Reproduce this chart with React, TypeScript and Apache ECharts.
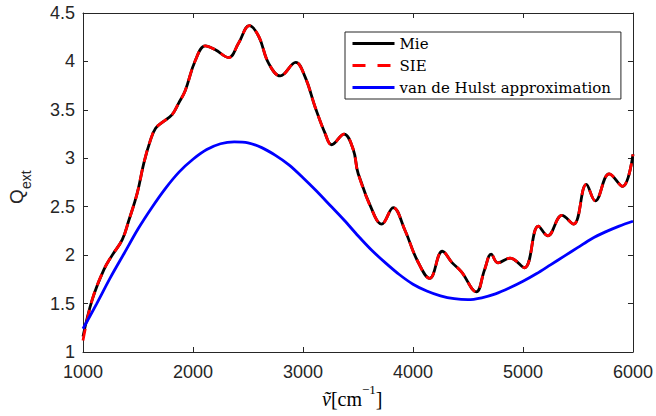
import React, { useEffect, useRef } from "react";
import * as echarts from "echarts";

// Wavenumber (cm^-1) sample positions
const mieNu = [1000, 1084, 1190, 1266, 1357, 1417, 1493, 1553, 1614, 1660, 1720, 1810, 1870, 1930, 2021, 2112, 2203, 2324, 2415, 2512, 2597, 2688, 2794, 2934, 3019, 3110, 3200, 3260, 3373, 3457, 3502, 3653, 3714, 3820, 3926, 4037, 4152, 4267, 4357, 4439, 4575, 4651, 4711, 4772, 4883, 5013, 5140, 5225, 5354, 5460, 5576, 5657, 5784, 5905, 6000];
const mieQ = [1.16, 1.54, 1.85, 2.0, 2.16, 2.36, 2.64, 2.95, 3.19, 3.31, 3.37, 3.45, 3.57, 3.7, 4.01, 4.16, 4.12, 4.04, 4.19, 4.37, 4.26, 3.98, 3.85, 3.99, 3.84, 3.53, 3.26, 3.14, 3.25, 3.09, 2.84, 2.4, 2.32, 2.49, 2.26, 1.95, 1.76, 2.04, 1.92, 1.83, 1.62, 1.85, 2.01, 1.92, 1.97, 1.87, 2.3, 2.2, 2.41, 2.32, 2.73, 2.56, 2.84, 2.71, 3.04];
const sieQ = [1.12, 1.54, 1.85, 2.0, 2.16, 2.36, 2.64, 2.95, 3.19, 3.31, 3.37, 3.45, 3.57, 3.7, 4.01, 4.16, 4.12, 4.04, 4.19, 4.37, 4.26, 3.98, 3.85, 3.99, 3.84, 3.53, 3.26, 3.14, 3.25, 3.09, 2.84, 2.4, 2.32, 2.49, 2.26, 1.95, 1.76, 2.04, 1.92, 1.83, 1.62, 1.85, 2.01, 1.92, 1.97, 1.87, 2.3, 2.2, 2.41, 2.32, 2.73, 2.56, 2.84, 2.71, 3.04];

const hulstNu = [1000, 1125, 1250, 1375, 1500, 1625, 1750, 1875, 2000, 2125, 2250, 2375, 2500, 2625, 2750, 2875, 3000, 3125, 3250, 3375, 3500, 3625, 3750, 3875, 4000, 4125, 4250, 4375, 4500, 4625, 4750, 4875, 5000, 5125, 5250, 5375, 5500, 5625, 5750, 5875, 6000];
const hulstQ = [1.24, 1.5, 1.77, 2.02, 2.27, 2.49, 2.69, 2.86, 2.99, 3.09, 3.15, 3.17, 3.16, 3.11, 3.03, 2.93, 2.8, 2.66, 2.51, 2.36, 2.2, 2.05, 1.92, 1.8, 1.7, 1.63, 1.58, 1.55, 1.54, 1.56, 1.6, 1.66, 1.73, 1.81, 1.9, 1.99, 2.08, 2.17, 2.24, 2.3, 2.35];

const seriesNames = ["Mie", "SIE", "van de Hulst approximation"];

const X_MIN = 1000, X_MAX = 6000, X_STEP = 1000;
const Y_MIN = 1, Y_MAX = 4.5, Y_STEP = 0.5;

const AXIS_COLOR = "#262626";

export default function App() {
  const ref = useRef<HTMLDivElement>(null);
  useEffect(() => {
    if (!ref.current) return;
    const chart = echarts.init(ref.current, undefined, { renderer: "svg" });
    const pair = (xs: number[], ys: number[]) => xs.map((x, i) => [x, ys[i]]);
    const baseAxis = {
      type: "value" as const,
      axisLine: { show: true, onZero: false, lineStyle: { color: AXIS_COLOR, width: 1 } },
      axisTick: { show: true, inside: true, length: 5, lineStyle: { color: AXIS_COLOR, width: 1 } },
      splitLine: { show: false },
    };
    chart.setOption({
      animation: false,
      backgroundColor: "#ffffff",
      grid: { left: 83, right: 20, top: 13, bottom: 64 },
      xAxis: [
        {
          ...baseAxis,
          position: "bottom",
          min: X_MIN, max: X_MAX, interval: X_STEP,
          axisLabel: { margin: 11, fontSize: 18, fontFamily: "Liberation Sans", color: AXIS_COLOR, formatter: (v: number) => String(v) },
        },
        {
          ...baseAxis,
          position: "top",
          min: X_MIN, max: X_MAX, interval: X_STEP,
          axisLabel: { show: false },
        },
      ],
      yAxis: [
        {
          ...baseAxis,
          position: "left",
          min: Y_MIN, max: Y_MAX, interval: Y_STEP,
          axisLabel: { margin: 8, fontSize: 18, fontFamily: "Liberation Sans", color: AXIS_COLOR, formatter: (v: number) => String(v) },
        },
        {
          ...baseAxis,
          position: "right",
          min: Y_MIN, max: Y_MAX, interval: Y_STEP,
          axisLabel: { show: false },
        },
      ],
      legend: {
        orient: "vertical",
        left: 345,
        top: 32,
        padding: [4, 10, 4, 6],
        itemGap: 7,
        itemWidth: 42,
        itemHeight: 16,
        borderColor: AXIS_COLOR,
        borderWidth: 1,
        backgroundColor: "#ffffff",
        itemStyle: { opacity: 0 },
        lineStyle: { width: 3 },
        textStyle: { fontFamily: "DejaVu Serif", fontSize: 15, color: "#000" },
        data: [
          { name: seriesNames[0] },
          { name: seriesNames[1], lineStyle: { width: 3, type: [13, 12] } },
          { name: seriesNames[2] },
        ],
      },
      series: [
        {
          name: seriesNames[0],
          type: "line",
          xAxisIndex: 0, yAxisIndex: 0,
          data: pair(mieNu, mieQ),
          smooth: 0.4,
          symbol: "none",
          lineStyle: { color: "#000000", width: 2.8 },
          itemStyle: { color: "#000000" },
        },
        {
          name: seriesNames[1],
          type: "line",
          xAxisIndex: 0, yAxisIndex: 0,
          data: pair(mieNu, sieQ),
          smooth: 0.4,
          symbol: "none",
          lineStyle: { color: "#ff0000", width: 2.8, type: [12, 7] },
          itemStyle: { color: "#ff0000" },
        },
        {
          name: seriesNames[2],
          type: "line",
          xAxisIndex: 0, yAxisIndex: 0,
          data: pair(hulstNu, hulstQ),
          smooth: 0.3,
          symbol: "none",
          lineStyle: { color: "#0000ff", width: 2.8 },
          itemStyle: { color: "#0000ff" },
        },
      ],
      graphic: [
        {
          type: "group",
          x: 26,
          y: 204,
          rotation: Math.PI / 2,
          children: [
            {
              type: "text",
              x: 0, y: 0,
              style: { text: "Q", fontSize: 19, fontFamily: "Liberation Sans", fill: AXIS_COLOR, textAlign: "left", textVerticalAlign: "bottom" },
            },
            {
              type: "text",
              x: 15, y: 7,
              style: { text: "ext", fontSize: 14, fontFamily: "Liberation Sans", fill: AXIS_COLOR, textAlign: "left", textVerticalAlign: "bottom" },
            },
          ],
        },
        {
          type: "text",
          left: 322,
          top: 383,
          style: {
            text: "{v|ṽ}{t|[cm}{s|−1}{t|]}",
            rich: {
              v: { fontSize: 20, fontFamily: "Liberation Serif", fontStyle: "italic", fill: "#000", verticalAlign: "bottom", lineHeight: 26 },
              t: { fontSize: 20, fontFamily: "Liberation Serif", fill: "#000", verticalAlign: "bottom", lineHeight: 26 },
              s: { fontSize: 13, fontFamily: "Liberation Serif", fill: "#000", verticalAlign: "top", lineHeight: 26 },
            },
          },
        },
      ],
    });
    return () => chart.dispose();
  }, []);
  return (
    <div
      ref={ref}
      style={{ position: "absolute", left: 0, top: 0, width: 656, height: 416 }}
    />
  );
}
